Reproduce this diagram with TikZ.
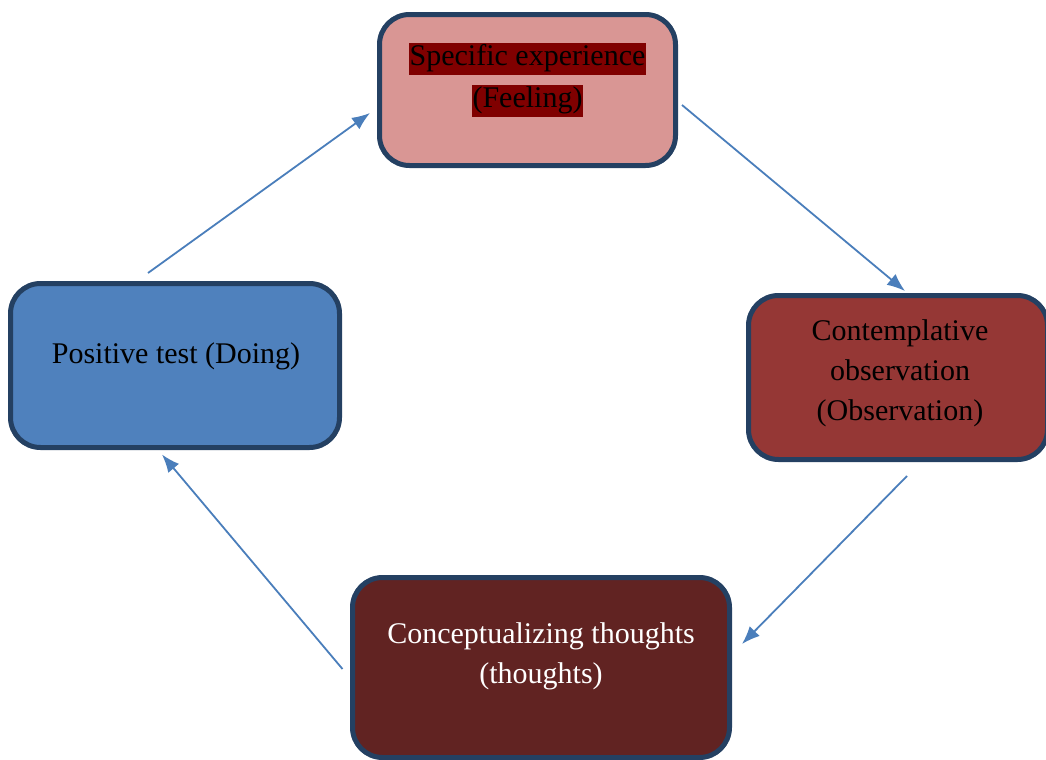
\documentclass[tikz,border=0pt]{standalone}
\usepackage{fontspec}
\setmainfont{Liberation Serif}
\usetikzlibrary{arrows.meta}
\definecolor{boxline}{RGB}{36,64,98}
\definecolor{feelfill}{RGB}{217,150,148}
\definecolor{feelmark}{RGB}{128,0,0}
\definecolor{obsfill}{RGB}{149,55,53}
\definecolor{thinkfill}{RGB}{97,35,34}
\definecolor{dofill}{RGB}{79,129,189}
\definecolor{flowblue}{RGB}{74,126,187}
\newcommand{\markline}[1]{{\setlength{\fboxsep}{0.5pt}\colorbox{feelmark}{\rule[-4.5pt]{0pt}{14.5pt}#1}}}
\begin{document}
\begin{tikzpicture}[x=0.5pt,y=-0.5pt,
        stagebox/.style={draw=boxline, line width=2.5pt, rounded corners=15pt},
        stagetext/.style={align=center, font=\fontsize{15}{20}\selectfont},
        flow/.style={draw=flowblue, line width=0.9pt, -{Latex[length=9pt,width=7pt]}}]
        \useasboundingbox (0,0) rectangle (1046,760);
        % The four boxes
        \node[stagebox, fill=feelfill, minimum width=148pt, minimum height=75.5pt] (feel) at (527.5,90) {};
        \node[stagebox, fill=obsfill, minimum width=149.5pt, minimum height=82pt] (obs) at (898,377.5) {};
        \node[stagebox, fill=thinkfill, minimum width=188.5pt, minimum height=90pt] (think) at (541,667.5) {};
        \node[stagebox, fill=dofill, minimum width=164.5pt, minimum height=82pt] (do) at (175,365.5) {};
        % Texts in the boxes
        \node[stagetext, text=black] (feeltext) at (527.5,80) {\markline{Specific experience}\\[1pt]\markline{(Feeling)}};
        \node[stagetext, text=black] (obstext) at (900,373) {Contemplative\\observation\\(Observation)};
        \node[stagetext, text=white] (thinktext) at (541,656) {Conceptualizing thoughts\\(thoughts)};
        \node[stagetext, text=black] (dotext) at (176,356) {Positive test (Doing)};
        % Arrows round the cycle
        \draw[flow] ([xshift=-13.5pt,yshift=4pt]do.north) -- ([xshift=-3.5pt,yshift=-11.5pt]feel.west);
        \draw[flow] ([xshift=2pt,yshift=-7.5pt]feel.east) -- ([xshift=3.5pt,yshift=1pt]obs.north);
        \draw[flow] ([xshift=4.5pt,yshift=-7pt]obs.south) -- ([xshift=5pt,yshift=11.75pt]think.east);
        \draw[flow] ([xshift=-3.75pt,yshift=-0.75pt]think.west) -- ([xshift=-6.5pt,yshift=-2.25pt]do.south);
    \end{tikzpicture}
\end{document}
